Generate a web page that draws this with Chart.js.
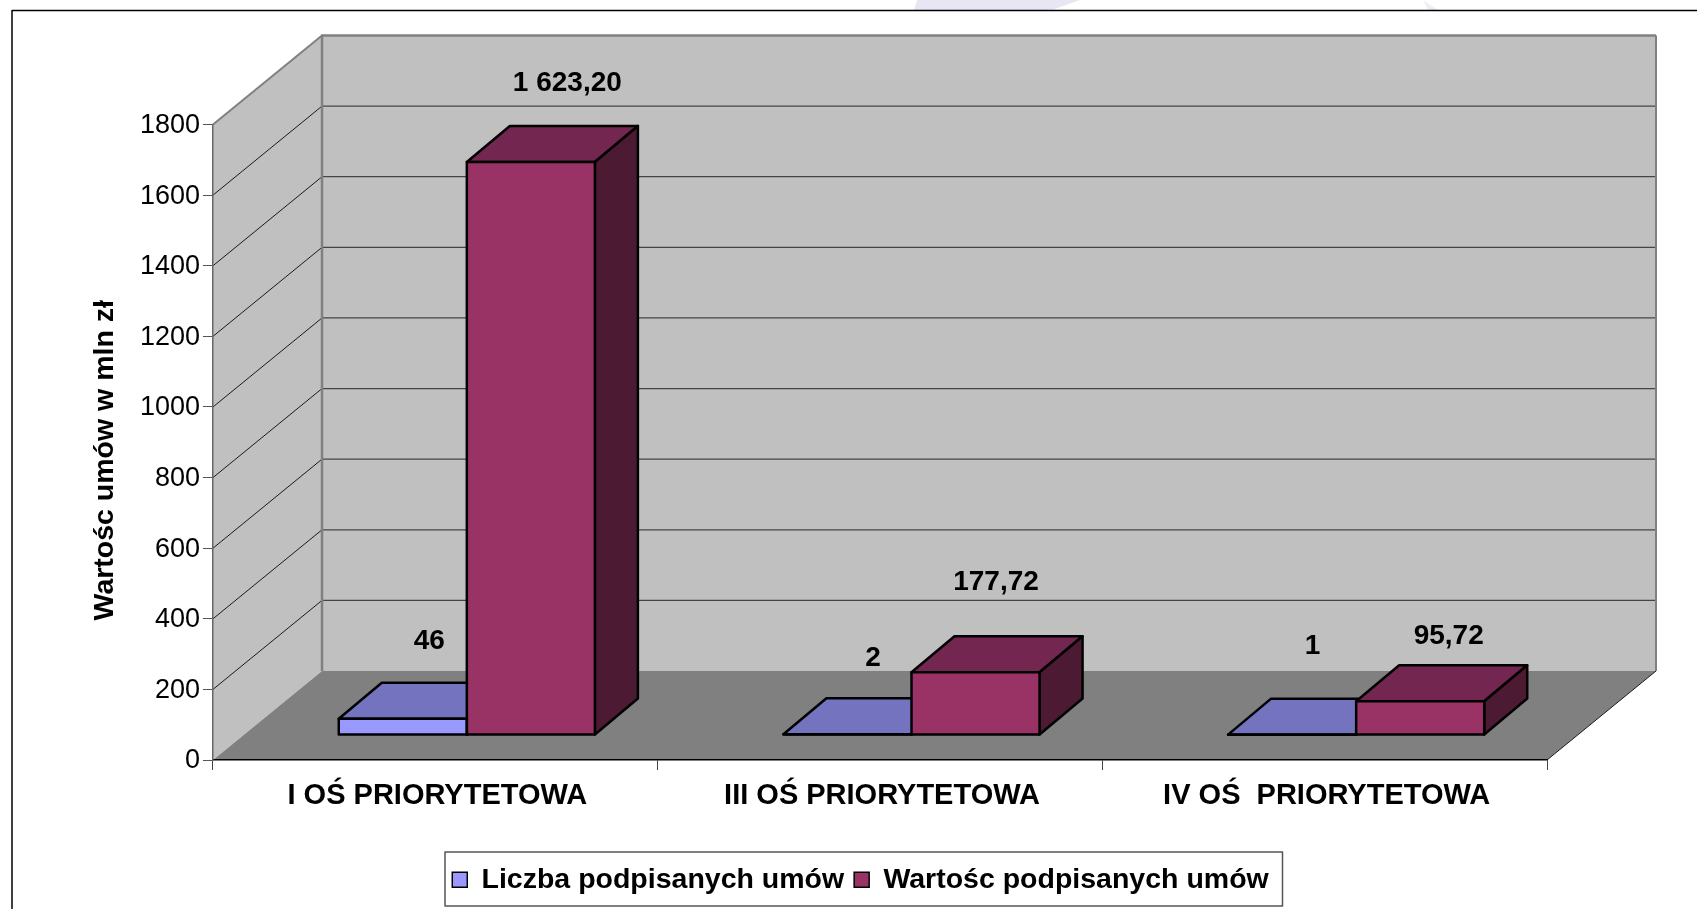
<!DOCTYPE html>
<html>
<head>
<meta charset="utf-8">
<title>Wartość umów</title>
<script src="https://cdn.jsdelivr.net/npm/chart.js@4"></script>
<style>
    html, body { margin: 0; padding: 0; background: #fff; overflow: hidden; }
    canvas { display: block; }
</style>
</head>
<body>
<canvas id="myChart" width="1697" height="909"></canvas>
<script>
// Data
const categories = ["I OŚ PRIORYTETOWA", "III OŚ PRIORYTETOWA", "IV OŚ  PRIORYTETOWA"];
const seriesNames = ["Liczba podpisanych umów", "Wartośc podpisanych umów"];
const contractCount = [46, 2, 1];
const contractValue = [1623.20, 177.72, 95.72];
const countLabels = ["46", "2", "1"];
const valueLabels = ["1 623,20", "177,72", "95,72"];
const axisTitle = "Wartośc umów w mln zł";

// Label shift from the bar position, these were moved by hand in the original
const countLabelShift = [[58, -102], [57, -101], [52, -113]];
const valueLabelShift = [[68, -104], [52, -115], [60, -90]];

// Depth of the box and of the bars
const wallDx = 109, wallDy = -89;
const barDx = 31.5, barDy = -25;
const depthDx = 43, depthDy = -36;

const faces = [
    { front: "#9999ff", top: "#7373bf", side: "#4d4d80" },
    { front: "#993366", top: "#732650", side: "#4d1a33" }
];

function poly(ctx, pts, fill, stroke, width) {
    ctx.beginPath();
    pts.forEach((p, i) => i ? ctx.lineTo(p[0], p[1]) : ctx.moveTo(p[0], p[1]));
    ctx.closePath();
    if (fill) { ctx.fillStyle = fill; ctx.fill(); }
    if (stroke) { ctx.strokeStyle = stroke; ctx.lineWidth = width; ctx.lineJoin = "round"; ctx.stroke(); }
}

function line(ctx, x1, y1, x2, y2, color, width) {
    ctx.beginPath();
    ctx.moveTo(x1, y1);
    ctx.lineTo(x2, y2);
    ctx.strokeStyle = color;
    ctx.lineWidth = width;
    ctx.stroke();
}

// Walls, floor, grid and page frame go under the axes
const box3d = {
    id: "box3d",
    afterLayout(chart) {
        // legend sits a bit right of the page centre in the original
        chart.legend.left = 12;
        chart.legend.right = 1697 + 12;
        chart.legend.top -= 2;

        // axis title is lower than the middle of the axis
        const yScale = chart.scales.y;
        const drawTitle = yScale.drawTitle;
        yScale.drawTitle = function () {
            chart.ctx.save();
            chart.ctx.translate(0, 18);
            drawTitle.call(yScale);
            chart.ctx.restore();
        };
    },
    beforeDraw(chart) {
        const ctx = chart.ctx;
        const { left, right, top, bottom } = chart.chartArea;
        const yScale = chart.scales.y;

        // bits of the page behind the chart
        poly(ctx, [[917, 0], [1080, 0], [1052, 10], [914, 10]], "#e8e6f3");
        poly(ctx, [[1423, 0], [1428, 10], [1438, 10]], "#efeef6");

        line(ctx, 12, 10.5, 1697, 10.5, "#000", 1.5);
        line(ctx, 12, 10, 12, 909, "#000", 1.5);

        const backL = left + wallDx, backR = right + wallDx;
        const backT = top + wallDy, backB = bottom + wallDy;

        poly(ctx, [[left, top], [backL, backT], [backL, backB], [left, bottom]], "#c0c0c0");
        poly(ctx, [[backL, backT], [backR, backT], [backR, backB], [backL, backB]], "#c0c0c0");
        poly(ctx, [[left, bottom], [right, bottom], [backR, backB], [backL, backB]], "#808080");

        yScale.ticks.forEach(tick => {
            if (tick.value === 0 || tick.value === yScale.max) return;
            const y = yScale.getPixelForValue(tick.value);
            line(ctx, left, y, backL, y + wallDy, "#1a1a1a", 1);
            line(ctx, backL, y + wallDy, backR, y + wallDy, "#444", 1.3);
        });

        line(ctx, left, top, backL, backT, "#808080", 2);
        line(ctx, backL - 1, backT, backR, backT, "#808080", 2.5);
        line(ctx, backL, backT, backL, backB, "#808080", 2.5);
        line(ctx, backR, backT, backR, backB, "#808080", 2);
        line(ctx, right, bottom, backR, backB, "#1a1a1a", 1);
    },
    beforeDatasetsDraw(chart) {
        // tops and sides first, left series then right one, the fronts cover them
        const ctx = chart.ctx;
        chart.data.datasets.forEach((ds, d) => {
            const style = faces[d];
            chart.getDatasetMeta(d).data.forEach(bar => {
                const x0 = bar.x - bar.width / 2 + barDx, x1 = bar.x + bar.width / 2 + barDx;
                const y0 = bar.y + barDy, y1 = bar.base + barDy;
                poly(ctx, [[x0, y0], [x1, y0], [x1 + depthDx, y0 + depthDy], [x0 + depthDx, y0 + depthDy]], style.top, "#000", 2.5);
                poly(ctx, [[x1, y0], [x1 + depthDx, y0 + depthDy], [x1 + depthDx, y1 + depthDy], [x1, y1]], style.side, "#000", 2.5);
            });
        });
    },
    beforeDatasetDraw(chart) {
        // the fronts are the chart's own bars, only moved into the box
        chart.ctx.save();
        chart.ctx.translate(barDx, barDy);
    },
    afterDatasetDraw(chart) {
        chart.ctx.restore();
    },
    afterDatasetsDraw(chart) {
        const ctx = chart.ctx;
        chart.data.datasets.forEach((ds, d) => {
            chart.getDatasetMeta(d).data.forEach(bar => {
                const x0 = bar.x - bar.width / 2 + barDx;
                poly(ctx, [[x0, bar.y + barDy], [x0 + bar.width, bar.y + barDy], [x0 + bar.width, bar.base + barDy], [x0, bar.base + barDy]], null, "#000", 2.5);
            });
        });
    },
    afterDraw(chart) {
        const ctx = chart.ctx;
        const texts = [countLabels, valueLabels];
        const shifts = [countLabelShift, valueLabelShift];

        ctx.save();
        ctx.font = "bold 28px 'Liberation Sans'";
        ctx.fillStyle = "#000";
        ctx.textAlign = "center";
        ctx.textBaseline = "middle";
        chart.data.datasets.forEach((ds, d) => {
            chart.getDatasetMeta(d).data.forEach((bar, i) => {
                ctx.fillText(texts[d][i], bar.x + shifts[d][i][0], bar.y + shifts[d][i][1]);
            });
        });
        ctx.restore();

        // legend frame
        ctx.strokeStyle = "#555";
        ctx.lineWidth = 1.5;
        ctx.strokeRect(445, 852, 837.5, 54);
    }
};

new Chart(document.getElementById("myChart").getContext("2d"), {
    type: "bar",
    data: {
        labels: categories,
        datasets: [
            { label: seriesNames[0], data: contractCount, backgroundColor: faces[0].front, clip: false },
            { label: seriesNames[1], data: contractValue, backgroundColor: faces[1].front, clip: false }
        ]
    },
    options: {
        responsive: false,
        animation: false,
        layout: { padding: { top: 124.5, right: 150, left: 0, bottom: 3 } },
        datasets: { bar: { categoryPercentage: 0.576, barPercentage: 1 } },
        scales: {
            x: {
                grid: { drawOnChartArea: false, drawTicks: true, tickLength: 10, color: "#444" },
                border: { color: "#000", width: 1.5 },
                ticks: {
                    color: "#000",
                    padding: 9,
                    labelOffset: 2,
                    maxRotation: 0,
                    font: { family: "'Liberation Sans'", size: 29, weight: "bold" }
                },
                afterFit(scale) {
                    scale.height = 909 - 3 - 760 - scale.chart.legend.height;
                }
            },
            y: {
                min: 0,
                max: 1800,
                grid: { drawOnChartArea: false, drawTicks: true, tickLength: 10, color: "#555" },
                border: { color: "#666", width: 1.5 },
                ticks: {
                    stepSize: 200,
                    color: "#000",
                    padding: 3,
                    labelOffset: 1,
                    font: { family: "'Liberation Sans'", size: 27 },
                    callback: value => String(value)
                },
                title: {
                    display: true,
                    text: axisTitle,
                    color: "#000",
                    padding: { top: 88, bottom: 0 },
                    font: { family: "'Liberation Sans'", size: 28.5, weight: "bold" }
                },
                afterFit(scale) {
                    scale.width = 213;
                }
            }
        },
        plugins: {
            tooltip: { enabled: false },
            legend: {
                position: "bottom",
                labels: {
                    color: "#000",
                    boxWidth: 15,
                    boxHeight: 15,
                    padding: 10,
                    font: { family: "'Liberation Sans'", size: 28.5, weight: "bold" },
                    generateLabels(chart) {
                        const items = Chart.defaults.plugins.legend.labels.generateLabels(chart);
                        items.forEach(item => {
                            item.strokeStyle = "#000";
                            item.lineWidth = 1.5;
                        });
                        return items;
                    }
                }
            }
        }
    },
    plugins: [box3d]
});
</script>
</body>
</html>
